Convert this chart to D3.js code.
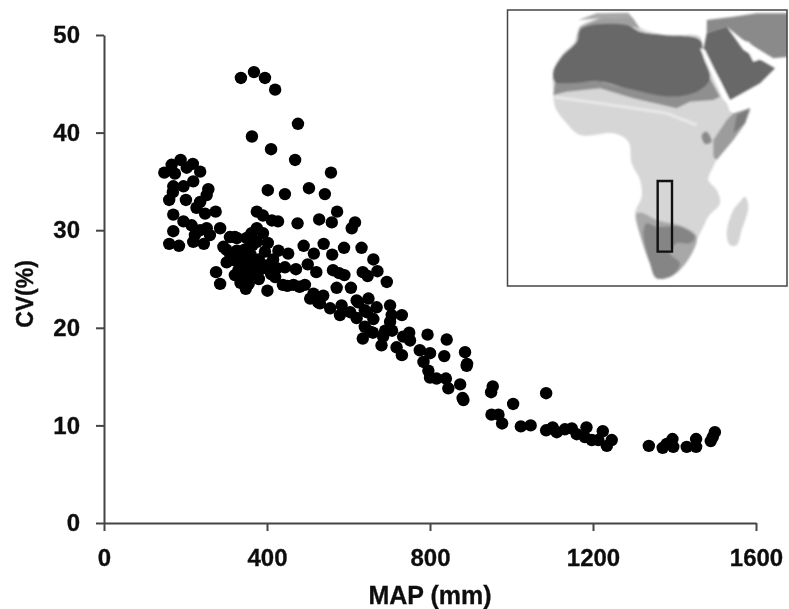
<!DOCTYPE html>
<html>
<head>
<meta charset="utf-8">
<title>CV vs MAP</title>
<script src="https://d3js.org/d3.v7.min.js"></script>
<style>
  body { margin: 0; background: #fff; }
  svg { display: block; }
  text { font-family: "Liberation Sans", Arial, sans-serif; font-weight: bold; fill: #0d0d0d; stroke: #0d0d0d; stroke-width: 0.3px; }
  .axis path, .axis line { stroke: #444; stroke-width: 2; }
  .axis text { font-size: 24px; }
</style>
</head>
<body>
<div id="chart"></div>
<script>
// rainfall (mm) and coefficient of variation (%)
var mapValues = [
  336,368,395,420,476,363,410,469,557,402,444,503,542,
  148,166,188,218,236,174,203,170,195,219,169,160,201,256,252,236,227,170,274,248,195,170,215,252,223,236,260,219,245,160,184,285,293,309,326,
  375,390,412,427,475,528,559,572,
  275,285,348,401,490,539,515,560,500,521,562,571,375,362,390,321,350,402,375,326,301,321,342,366,330,354,371,342,362,321,395,428,452,399,424,444,471,420,439,465,493,514,538,506,
  589,632,661,616,608,577,590,635,647,671,694,606,526,555,583,604,624,649,669,702,731,706,645,579,
  620,640,661,702,640,635,653,690,681,685,749,734,718,731,794,841,886,835,775,800,784,796,800,816,839,845,874,890,891,880,882,751,707,
  954,950,1085,1004,951,968,977,1023,1047,1085,1101,1111,1131,1148,1160,1184,1180,1197,1224,1213,1234,1246,
  1337,1371,1381,1395,1397,1430,1453,1453,1489,1499,1494,
  330,345,360,380,340,355,380,310,300,415,410,385,350,365,335,530,480,450,660,620
];
var cvValues = [
  45.6,46.2,45.6,44.4,40.9,39.6,38.3,37.2,35.9,34.1,33.7,34.3,33.7,
  35.9,36.7,37.2,36.8,36.0,35.8,36.4,34.5,34.5,35.0,33.9,33.1,33.1,34.2,33.6,32.9,32.3,31.6,31.9,31.7,30.9,29.9,30.5,30.2,29.5,30.0,29.5,28.8,28.6,28.6,28.4,30.2,28.3,29.3,29.2,
  31.9,31.5,31.0,30.9,30.7,31.1,30.8,31.9,
  25.7,24.5,24.0,23.8,28.4,28.6,27.6,27.5,26.5,25.7,25.9,24.1,30.2,29.7,29.7,29.3,29.2,28.7,28.8,27.9,26.7,26.9,27.1,26.7,25.9,25.9,26.1,25.0,25.2,25.4,27.8,27.9,27.6,26.4,26.1,26.2,26.0,25.2,24.4,24.4,24.4,23.5,23.3,23.0,
  28.2,28.2,27.0,30.8,30.2,25.6,25.4,25.7,25.3,25.8,24.7,24.1,22.6,22.0,22.3,21.6,22.6,23.0,22.1,22.3,21.3,21.3,21.6,21.3,
  22.8,21.8,20.9,20.6,20.1,18.9,19.6,19.7,18.2,19.1,19.5,19.1,18.0,17.2,19.3,18.8,17.5,17.1,17.7,17.4,16.5,15.6,14.9,14.8,14.8,13.8,14.2,16.1,16.3,12.8,12.6,18.7,19.7,
  14.0,13.4,13.3,12.2,11.1,11.1,10.2,9.9,10.0,9.5,9.8,9.3,9.6,9.7,9.1,9.8,8.8,8.5,9.4,8.5,7.9,8.5,
  7.9,7.7,8.1,8.6,7.8,7.8,8.6,7.8,8.4,9.3,8.8,
  27.5,28.0,27.5,27.0,26.0,24.5,25.0,27.5,28.0,27.0,25.5,26.0,26.8,28.5,24.6,22.5,24.2,24.3,19.5,21.0
];
var xTicks = [0, 400, 800, 1200, 1600];
var yTicks = [0, 10, 20, 30, 40, 50];

// inset map shapes, in the map's own units
var landAfrica = [[160,215],[185,165],[225,125],[240,80],[300,55],[395,50],[420,85],[490,105],[600,110],[605,150],[640,230],[680,310],[700,340],[750,325],[735,370],[700,420],[650,480],[640,500],[625,540],[650,570],[660,610],[625,650],[610,680],[590,720],[570,770],[520,825],[470,835],[450,790],[425,720],[405,640],[425,590],[420,540],[395,490],[385,425],[340,400],[240,405],[200,370],[165,320],[160,270]];
var madagascar = [[735,590],[745,620],[725,690],[710,735],[690,735],[680,700],[700,630],[720,605]];
var northCoast = [[225,125],[240,80],[300,55],[395,50],[420,85],[490,105],[380,75],[245,85]];
var sahara = [[160,215],[185,170],[230,125],[245,85],[380,75],[420,95],[490,105],[600,120],[610,170],[630,235],[600,270],[520,290],[400,270],[300,245],[200,250],[165,245]];
var sahel = [[165,245],[300,245],[400,270],[520,290],[600,270],[630,235],[660,290],[640,300],[570,305],[530,325],[400,295],[300,265],[200,275],[160,285]];
var horn = [[640,470],[640,420],[680,360],[700,340],[750,325],[735,370],[700,420],[650,480]];
var hornDark = [[700,400],[710,345],[750,325],[735,370]];
var lakePatch = [[605,405],[620,395],[635,425],[615,432]];
var southMid = [[410,640],[430,640],[470,660],[550,680],[590,710],[570,770],[520,825],[470,835],[450,790],[425,720]];
var southDark = [[430,700],[440,670],[470,680],[540,680],[585,710],[570,730],[530,730],[510,760],[540,790],[520,825],[470,835],[450,790]];
var arabiaDark = [[620,100],[680,80],[730,150],[825,205],[780,250],[690,300],[660,240],[610,150]];
var arabiaMid = [[620,60],[700,50],[770,40],[867,40],[867,170],[820,175],[730,120],[680,80],[620,100]];
var europeStrip = [[235,60],[290,40],[385,38],[395,50],[300,55]];
var redSea = [[600,145],[615,150],[690,305],[670,300]];
var adenGulf = [[685,320],[750,300],[750,318],[690,335]];
var persianGulf = [[730,125],[745,125],[790,175],[760,185]];
var medSea = [[400,40],[620,40],[610,105],[490,90],[420,70]];
var lightLine = [[165,292],[300,310],[500,340],[590,375]];
var studyBox = [[473,543],[516,543],[516,755],[473,755]];

var width = 789, height = 609;

var svg = d3.select("#chart").append("svg")
  .attr("width", width)
  .attr("height", height);

var defs = svg.append("defs");
defs.append("filter").attr("id", "soft").append("feGaussianBlur").attr("stdDeviation", 0.5);
defs.append("filter").attr("id", "softMap").append("feGaussianBlur").attr("stdDeviation", 1.2);
defs.append("clipPath").attr("id", "mapClip").append("rect")
  .attr("x", 508).attr("y", 11).attr("width", 279).attr("height", 275);

var x = d3.scaleLinear().domain([0, 1600]).range([104, 756]);
var y = d3.scaleLinear().domain([0, 50]).range([523, 35]);

var plot = svg.append("g").attr("filter", "url(#soft)");

// y axis
plot.append("g")
  .attr("class", "axis")
  .attr("transform", "translate(104,0)")
  .call(d3.axisLeft(y).tickValues(yTicks).tickSize(8).tickSizeOuter(0).tickPadding(16));
// x axis
plot.append("g")
  .attr("class", "axis")
  .attr("transform", "translate(0,523)")
  .call(d3.axisBottom(x).tickValues(xTicks).tickFormat(d3.format("d")).tickSize(8).tickSizeOuter(0).tickPadding(18));

plot.selectAll("circle.point")
  .data(mapValues)
  .enter()
  .append("circle")
  .attr("class", "point")
  .attr("cx", function(d) { return x(d); })
  .attr("cy", function(d, i) { return y(cvValues[i]); })
  .attr("r", 6.2)
  .attr("fill", "#000");

plot.append("text")
  .attr("x", 430)
  .attr("y", 604)
  .attr("text-anchor", "middle")
  .style("font-size", "25px")
  .text("MAP (mm)");

plot.append("text")
  .attr("transform", "translate(33,294) rotate(-90)")
  .attr("text-anchor", "middle")
  .style("font-size", "23px")
  .text("CV(%)");

// inset map
var mx = d3.scaleLinear().domain([0, 867]).range([500, 789]);
var my = d3.scaleLinear().domain([0, 885]).range([0, 295]);
var line = d3.line().x(function(d) { return mx(d[0]); }).y(function(d) { return my(d[1]); });
var smooth = d3.line().x(function(d) { return mx(d[0]); }).y(function(d) { return my(d[1]); }).curve(d3.curveCatmullRomClosed);
var ring = function(pts) { return line(pts) + "Z"; };

var inset = svg.append("g");
var mapShapes = inset.append("g")
  .attr("clip-path", "url(#mapClip)")
  .append("g")
  .attr("filter", "url(#softMap)");

var layers = [
  [landAfrica, "#d6d6d6", smooth], [madagascar, "#d4d4d4", smooth], [europeStrip, "#a8a8a8", ring], [northCoast, "#a0a0a0", ring],
  [sahel, "#8f8f8f", ring], [sahara, "#686868", smooth], [arabiaMid, "#8a8a8a", ring], [arabiaDark, "#686868", ring],
  [horn, "#9c9c9c", ring], [hornDark, "#7c7c7c", ring], [lakePatch, "#8a8a8a", smooth], [southMid, "#a8a8a8", smooth],
  [southDark, "#858585", smooth], [medSea, "#fff", ring], [redSea, "#fff", ring], [adenGulf, "#fff", ring], [persianGulf, "#fff", ring]
];
mapShapes.selectAll("path.layer")
  .data(layers)
  .enter()
  .append("path")
  .attr("class", "layer")
  .attr("d", function(d) { return d[2](d[0]); })
  .attr("fill", function(d) { return d[1]; });

mapShapes.append("path")
  .attr("d", line(lightLine))
  .attr("fill", "none")
  .attr("stroke", "#e8e8e8")
  .attr("stroke-width", 3);

inset.append("rect")
  .attr("x", 507.5).attr("y", 10).attr("width", 279.5).attr("height", 276)
  .attr("fill", "none")
  .attr("stroke", "#444")
  .attr("stroke-width", 1.5);

inset.append("path")
  .attr("d", ring(studyBox))
  .attr("fill", "none")
  .attr("stroke", "#111")
  .attr("stroke-width", 2.4);
</script>
</body>
</html>
